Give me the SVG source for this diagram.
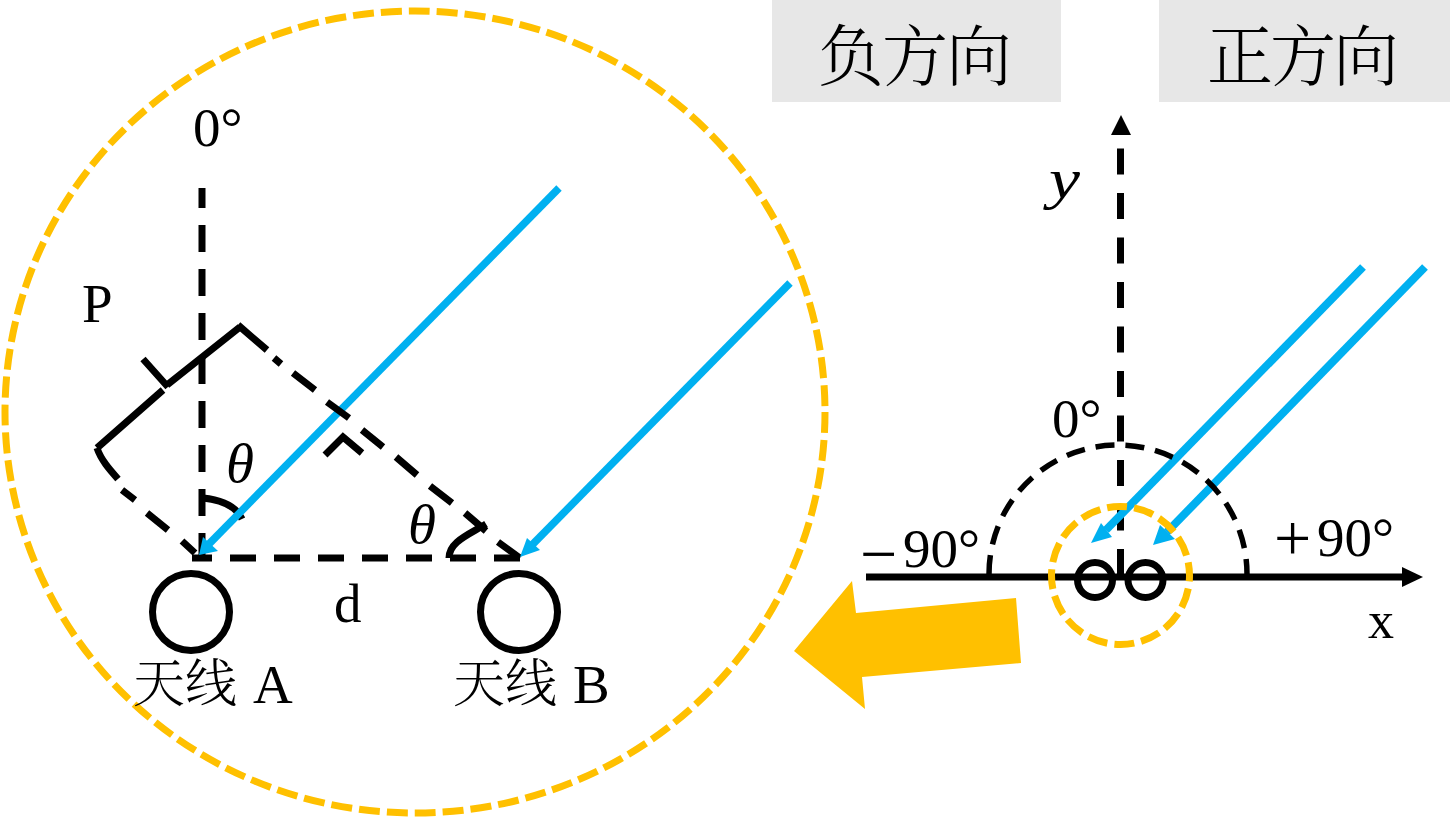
<svg xmlns="http://www.w3.org/2000/svg" width="1450" height="817" viewBox="0 0 1450 817">
<style>
.t{font-family:"Liberation Serif","Noto Sans CJK SC",serif;fill:#000;font-size:55px}
.cjk{font-family:"Noto Serif CJK SC","Liberation Serif","Noto Sans CJK SC",serif;font-weight:300;fill:#000}
.i{font-style:italic}
.k{fill:none;stroke:#000;stroke-linecap:butt;stroke-width:7}
.b{fill:none;stroke:#00B0F0;stroke-width:7.500}
.bh{fill:#00B0F0}
.o{fill:none;stroke:#FFC000;stroke-width:7}
.a{fill:none;stroke:#000;stroke-width:7}
.s{font-size:66px}
</style>
<rect id="neg-box" x="772" y="0" width="289" height="102" fill="#E7E7E7"/>
<rect id="pos-box" x="1159" y="0" width="291" height="102" fill="#E7E7E7"/>
<g id="big-circle"><ellipse cx="415" cy="412" rx="410" ry="401" class="o" stroke-dasharray="21 7"/></g>
<g id="connectors">
<path class="k" stroke-dasharray="27 17" d="M202 560V188"/>
<path class="k" stroke-dasharray="26 18" d="M520 558H192"/>
<path class="k" d="M240 327L167 385M163 390L97 448M143 359L168 387"/>
<path class="k" d="M97 448C101 460 110 470 118 479M122 490L135 500M147 513L168 530M182 541L195 553"/>
<path class="k" d="M238 325L267 350M274 358L281 364M293 373L315 390"/>
<path class="k" d="M362 430L383 447M396 457L417 475M430 486L452 503M465 513L486 531M498 542L520 558"/>
<path class="k" d="M325 455L343 437L362 453"/>
<path class="k" d="M203 498C222 500 236 506 242 519"/>
<path class="k" d="M449 558C449 542 468 535 486 524"/>
<path class="b" d="M559 188L208 545"/>
<path class="bh" d="M199 555L203 537L218 551Z"/>
<path class="b" d="M790 283L531 546"/>
<path class="bh" d="M520 557L527 538L540 550Z"/>
<path class="k" d="M327 402L349 418"/>
<path class="k" d="M866 577H1408"/>
<path fill="#000" d="M1402 567L1423 577L1402 587Z"/>
<path class="k" stroke-dasharray="26 18.500" d="M1120.500 575V130"/>
<path fill="#000" d="M1111 135L1121 115L1131 135Z"/>
<path class="b" style="stroke-width:8" d="M1363 267L1106 530"/>
<path class="bh" d="M1091 543L1101 523L1112 537Z"/>
<path class="b" style="stroke-width:8" d="M1425 267L1167 532"/>
<path class="bh" d="M1153 545L1160 525L1175 539Z"/>
<path class="k" style="stroke-width:5.500" stroke-dasharray="19 11" d="M989 574A129 129 0 0 1 1247 574"/>
<path fill="#FFC000" d="M1016 598L1021 663L862 677L865 709L794 651L852 581L856 613Z"/>
</g>
<g id="antenna-a"><circle cx="191" cy="612" r="38.500" class="a"/><text x="133" y="702" class="cjk" font-size="52">天线</text><text x="253" y="703" class="t">A</text></g>
<g id="antenna-b"><circle cx="519" cy="612" r="38.500" class="a"/><text x="453" y="702" class="cjk" font-size="52">天线</text><text x="573" y="703" class="t">B</text></g>
<g id="small-a"><circle cx="1095" cy="580" r="17.500" class="a"/></g>
<g id="small-b"><circle cx="1145.500" cy="580" r="17.500" class="a"/></g>
<g id="small-circle"><circle cx="1120.500" cy="575.500" r="69" class="o" stroke-dasharray="20 7.100" stroke-dashoffset="14"/></g>
<g id="labels">
<text x="818" y="80" class="cjk" font-size="66" textLength="194">负方向</text>
<text x="1207" y="80" class="cjk" font-size="66" textLength="192">正方向</text>
<text x="193" y="146" class="t">0°</text>
<text x="82" y="322" class="t">P</text>
<text x="226" y="482" class="t i" textLength="28" lengthAdjust="spacingAndGlyphs">θ</text>
<text x="408" y="543" class="t i" textLength="28" lengthAdjust="spacingAndGlyphs">θ</text>
<text x="334" y="622" class="t">d</text>
<text x="1052" y="437" class="t">0°</text>
<text x="1049" y="198" class="t i" style="font-size:56px" textLength="31" lengthAdjust="spacingAndGlyphs">y</text>
<text x="860" y="576" class="t"><tspan class="s">−</tspan><tspan x="903" dy="-9">90°</tspan></text>
<text x="1274" y="560" class="t"><tspan class="s">+</tspan><tspan x="1317" dy="-4">90°</tspan></text>
<text x="1368" y="638" class="t" style="font-size:52px">x</text>
</g>
</svg>
